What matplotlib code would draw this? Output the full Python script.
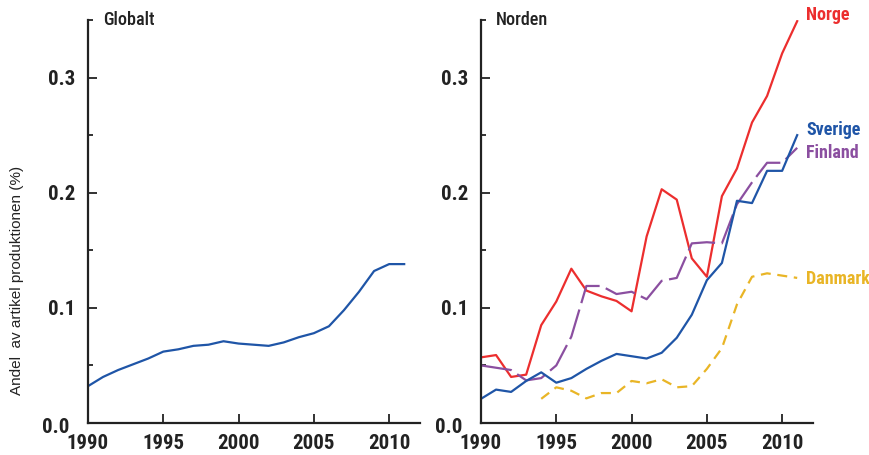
import matplotlib
matplotlib.use("Agg")
import matplotlib.pyplot as plt
from matplotlib import font_manager
from matplotlib.ticker import MultipleLocator

years = list(range(1990, 2012))
dk_years = list(range(1994, 2012))

globalt = [0.032, 0.040, 0.046, 0.051, 0.056, 0.062, 0.064, 0.067, 0.068, 0.071, 0.069,
           0.068, 0.067, 0.070, 0.0745, 0.078, 0.084, 0.098, 0.114, 0.132, 0.138, 0.138]

norge = [0.057, 0.059, 0.040, 0.042, 0.085, 0.1055, 0.134, 0.115, 0.110, 0.106, 0.097,
         0.162, 0.203, 0.194, 0.143, 0.127, 0.197, 0.221, 0.261, 0.284, 0.321, 0.349]
sverige = [0.021, 0.029, 0.027, 0.0365, 0.044, 0.035, 0.039, 0.047, 0.054, 0.060, 0.058,
           0.056, 0.061, 0.074, 0.094, 0.124, 0.139, 0.193, 0.191, 0.219, 0.219, 0.250]
finland = [0.050, 0.048, 0.046, 0.037, 0.039, 0.050, 0.075, 0.119, 0.119, 0.112, 0.114,
           0.1075, 0.1235, 0.126, 0.156, 0.157, 0.156, 0.190, 0.209, 0.226, 0.226, 0.239]
danmark = [0.021, 0.031, 0.028, 0.0214, 0.026, 0.026, 0.0365, 0.0345, 0.038, 0.031, 0.032,
           0.047, 0.065, 0.103, 0.127, 0.130, 0.128, 0.126]

x_ticks = [1990, 1995, 2000, 2005, 2010]
y_ticks = [0.0, 0.1, 0.2, 0.3]
y_labels = ["", "0.1", "0.2", "0.3"]  # 0.0 drawn separately, a bit lower

RED = "#ec2e2e"
BLUE = "#1f55a7"
PURPLE = "#8b4fa0"
YELLOW = "#e9b526"

# condensed face if one is installed
names = {f.name for f in font_manager.fontManager.ttflist}
cond = ["DejaVu Sans"]
for cand in ["Liberation Sans Narrow", "Roboto Condensed", "Open Sans Condensed",
             "DejaVu Sans Condensed"]:
    if cand in names:
        cond = [cand, "DejaVu Sans"]
        break

fig = plt.figure(figsize=(8.69, 4.55), dpi=100)
ax1 = fig.add_axes([88 / 869, 32 / 455, 332 / 869, 403 / 455])
ax2 = fig.add_axes([481 / 869, 32 / 455, 332 / 869, 403 / 455])


def style(ax, title):
    ax.set_xlim(1990, 2012.05)
    ax.set_ylim(0, 0.35)
    for s in ["top", "right"]:
        ax.spines[s].set_visible(False)
    for s in ["left", "bottom"]:
        ax.spines[s].set_linewidth(1.6)
        ax.spines[s].set_color("#222222")
    ax.set_xticks(x_ticks)
    ax.set_yticks(y_ticks, y_labels)
    ax.yaxis.set_minor_locator(MultipleLocator(0.05))
    ax.tick_params(which="major", direction="in", length=6.5, width=1.3, color="#222222",
                   labelsize=15)
    ax.tick_params(which="minor", direction="in", length=3.5, width=1.3, color="#222222")
    ax.tick_params(axis="y", pad=9)
    ax.tick_params(axis="x", pad=8)
    for lab in ax.get_xticklabels() + ax.get_yticklabels():
        lab.set_family(cond)
        lab.set_weight("semibold")
        lab.set_color("#222222")
    ax.annotate("0.0", xy=(0, 0), xycoords="axes fraction", xytext=(-9 - 4.7, -3),
                textcoords="offset points", ha="right", va="center", fontsize=15,
                family=cond, weight="semibold", color="#222222")
    ax.text(0.045, 1.0, title, transform=ax.transAxes, fontsize=13, family=cond,
            weight="medium", color="#222222", va="center", ha="left")


style(ax1, "Globalt")
style(ax2, "Norden")

ax1.plot(years, globalt, color=BLUE, lw=1.6)

ax2.plot(years, norge, color=RED, lw=1.6)
ax2.plot(years, finland, color=PURPLE, lw=1.6, dashes=(14, 3))
ax2.plot(years, sverige, color=BLUE, lw=1.6)
ax2.plot(dk_years, danmark, color=YELLOW, lw=1.6, dashes=(4.5, 3))

lab_kw = dict(transform=fig.transFigure, fontsize=13, family=cond,
              weight="semibold", va="center")
fig.text(806 / 869, 1 - 15 / 455, "Norge", color=RED, **lab_kw)
fig.text(806 / 869, 1 - 130 / 455, "Sverige", color=BLUE, **lab_kw)
fig.text(806 / 869, 1 - 153 / 455, "Finland", color=PURPLE, **lab_kw)
fig.text(806 / 869, 1 - 279 / 455, "Danmark", color=YELLOW, **lab_kw)

fig.text(17 / 869, 1 - 280 / 455, "Andel  av artikel produktionen (%)", rotation=90,
         fontsize=11, family=["Liberation Sans", "DejaVu Sans"], color="#222222",
         ha="center", va="center")

fig.savefig("out.png", dpi=100)
